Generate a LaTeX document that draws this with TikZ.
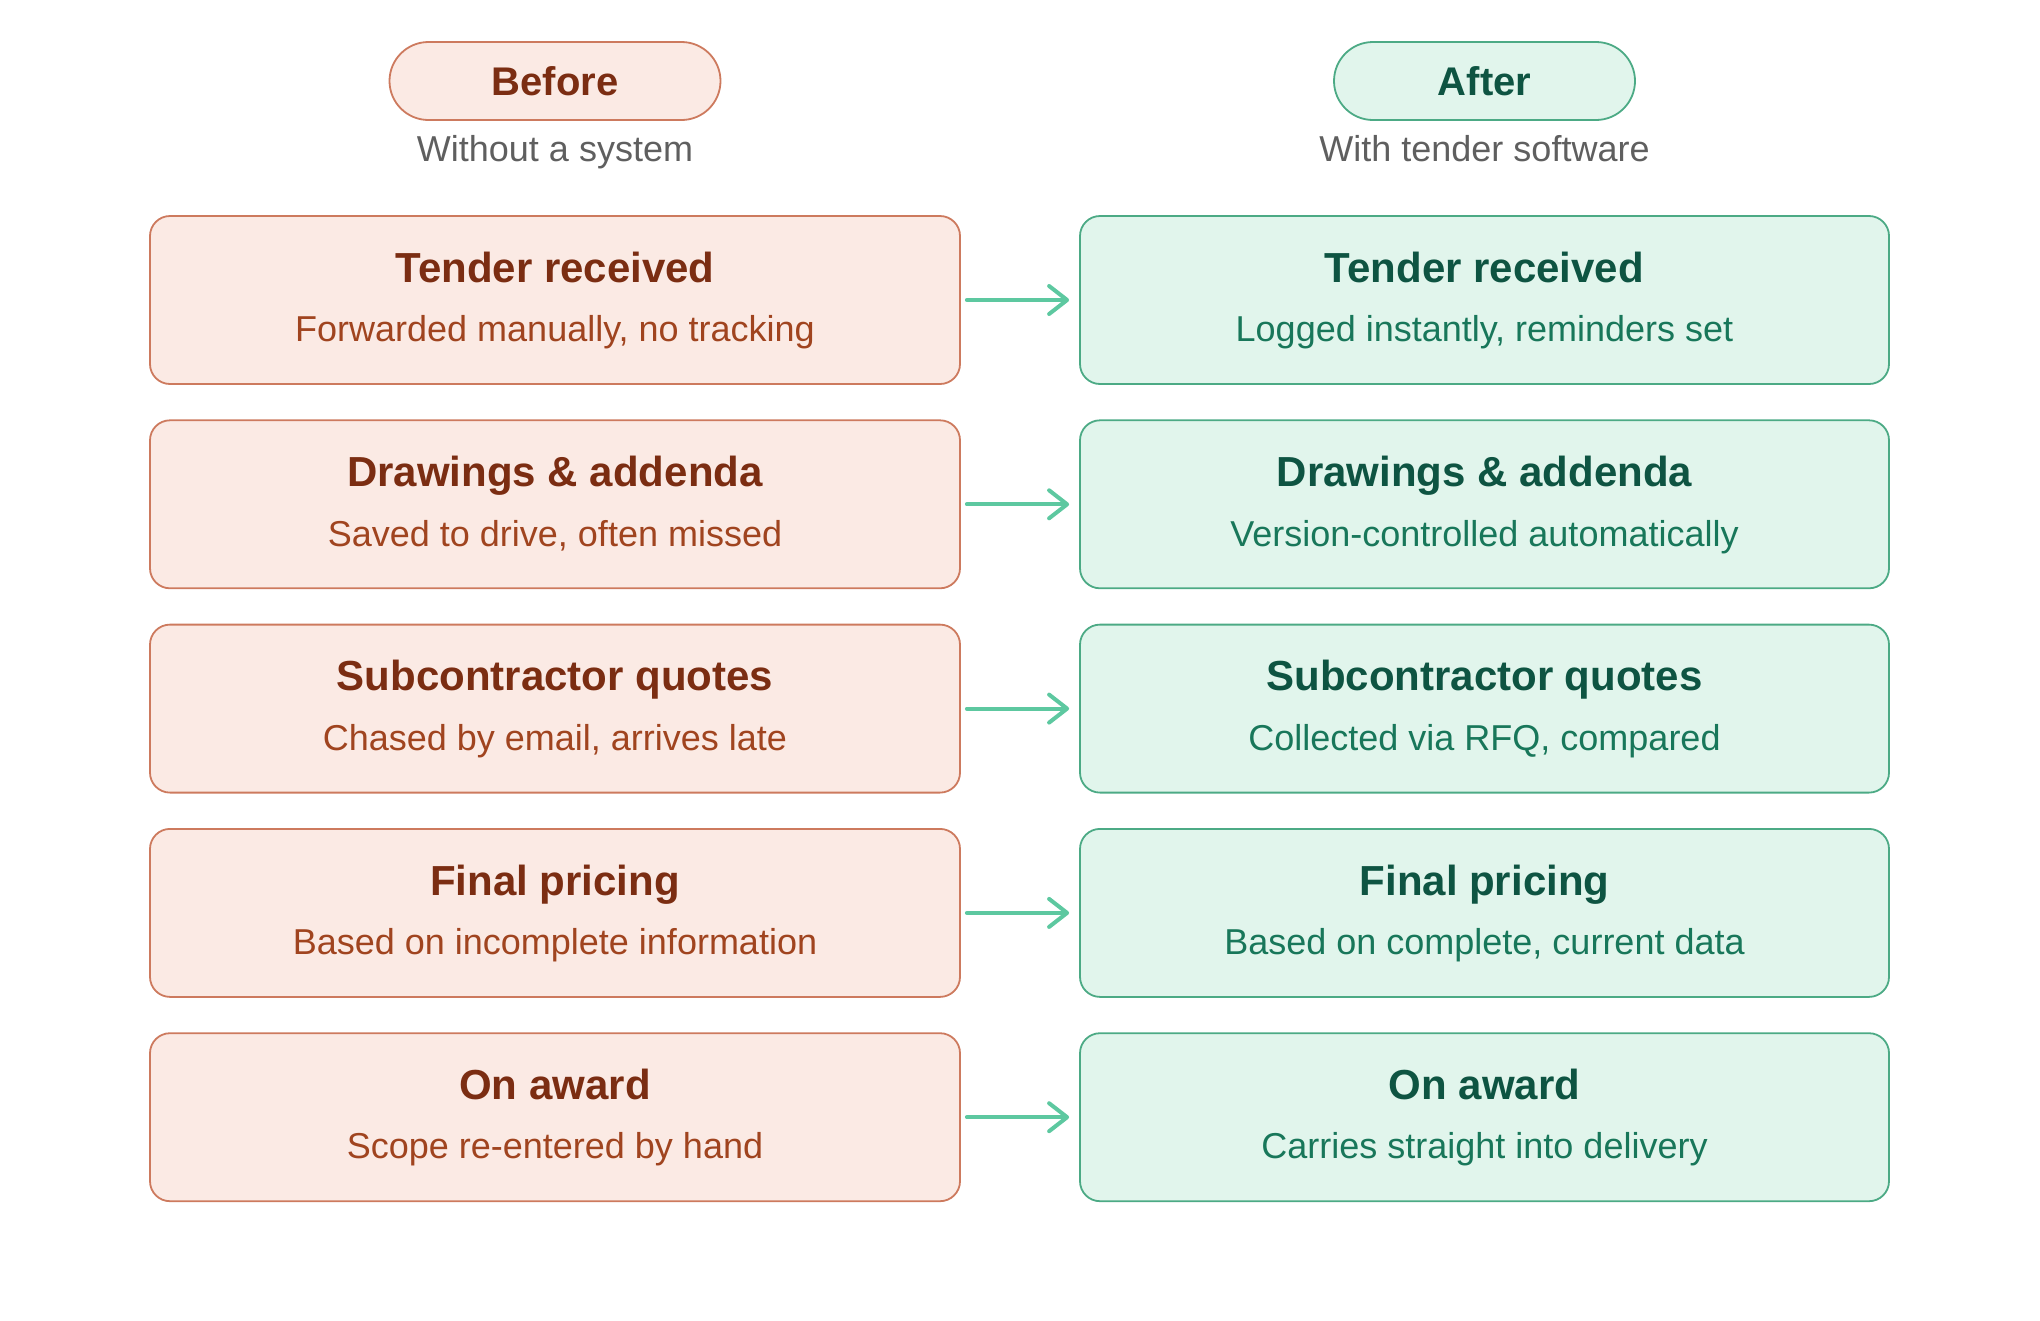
\documentclass[tikz,border=0pt]{standalone}
\usepackage{fontspec}
\setmainfont{Liberation Sans}
\usetikzlibrary{arrows.meta}
\definecolor{bfill}{HTML}{FBEAE4}
\definecolor{bdraw}{HTML}{CD7A5E}
\definecolor{btitle}{HTML}{7B2D12}
\definecolor{bsub}{HTML}{A0441F}
\definecolor{afill}{HTML}{E1F5EC}
\definecolor{adraw}{HTML}{4CAA85}
\definecolor{atitle}{HTML}{0E5442}
\definecolor{asub}{HTML}{18775A}
\definecolor{arrowc}{HTML}{5DC8A0}
\definecolor{graytxt}{HTML}{5F5F5F}
\tikzset{
  bbox/.style={draw=bdraw, fill=bfill, line width=1.8pt, rounded corners=20pt, minimum width=810pt, minimum height=168pt, inner sep=0pt},
  abox/.style={draw=adraw, fill=afill, line width=1.8pt, rounded corners=20pt, minimum width=809pt, minimum height=168pt, inner sep=0pt},
  bpill/.style={draw=bdraw, fill=bfill, line width=1.8pt, rounded corners=39pt, minimum width=331pt, minimum height=78pt, inner sep=0pt},
  apill/.style={draw=adraw, fill=afill, line width=1.8pt, rounded corners=39pt, minimum width=301pt, minimum height=78pt, inner sep=0pt},
  pilltxt/.style={anchor=base, inner sep=0pt, font=\fontsize{40}{48}\selectfont\bfseries},
  headsub/.style={anchor=base, inner sep=0pt, text=graytxt, font=\fontsize{36}{44}\selectfont},
  ttl/.style={anchor=base, inner sep=0pt, font=\fontsize{42}{50}\selectfont\bfseries},
  sub/.style={anchor=base, inner sep=0pt, font=\fontsize{36}{44}\selectfont},
  flow/.style={draw=arrowc, line width=4pt, line cap=round, -{Straight Barb[length=18pt,width=28pt,line join=round,line cap=round]}, shorten <=6pt, shorten >=10pt},
}
\begin{document}
\begin{tikzpicture}[x=1pt,y=-1pt]
\useasboundingbox (0,0) rectangle (2040,1320);
% headers
\node[bpill] (bp) at (555,81) {};
\node[pilltxt, text=btitle] (bpt) at (555,95) {Before};
\node[headsub] (bps) at (555,161.5) {Without a system};
\node[apill] (ap) at (1484.5,81) {};
\node[pilltxt, text=atitle] (apt) at (1484.5,95) {After};
\node[headsub] (aps) at (1484.5,161.5) {With tender software};
% rows
\foreach \i/\bt/\bs/\at/\as in {
  0/Tender received/{Forwarded manually, no tracking}/Tender received/{Logged instantly, reminders set},
  1/Drawings \& addenda/{Saved to drive, often missed}/Drawings \& addenda/Version-controlled automatically,
  2/Subcontractor quotes/{Chased by email, arrives late}/Subcontractor quotes/{Collected via RFQ, compared},
  3/Final pricing/Based on incomplete information/Final pricing/{Based on complete, current data},
  4/On award/Scope re-entered by hand/On award/Carries straight into delivery}{
  \pgfmathsetmacro{\yc}{300+204.3*\i}
  \node[bbox] (b\i) at (555,\yc) {};
  \node[ttl, text=btitle] (bt\i) at (555,\yc-17.7) {\bt};
  \node[sub, text=bsub] (bs\i) at (555,\yc+41.7) {\bs};
  \node[abox] (a\i) at (1484.5,\yc) {};
  \node[ttl, text=atitle] (at\i) at (1484.5,\yc-17.7) {\at};
  \node[sub, text=asub] (as\i) at (1484.5,\yc+41.7) {\as};
  \draw[flow] (b\i.east) -- (a\i.west);
}
\end{tikzpicture}
\end{document}
